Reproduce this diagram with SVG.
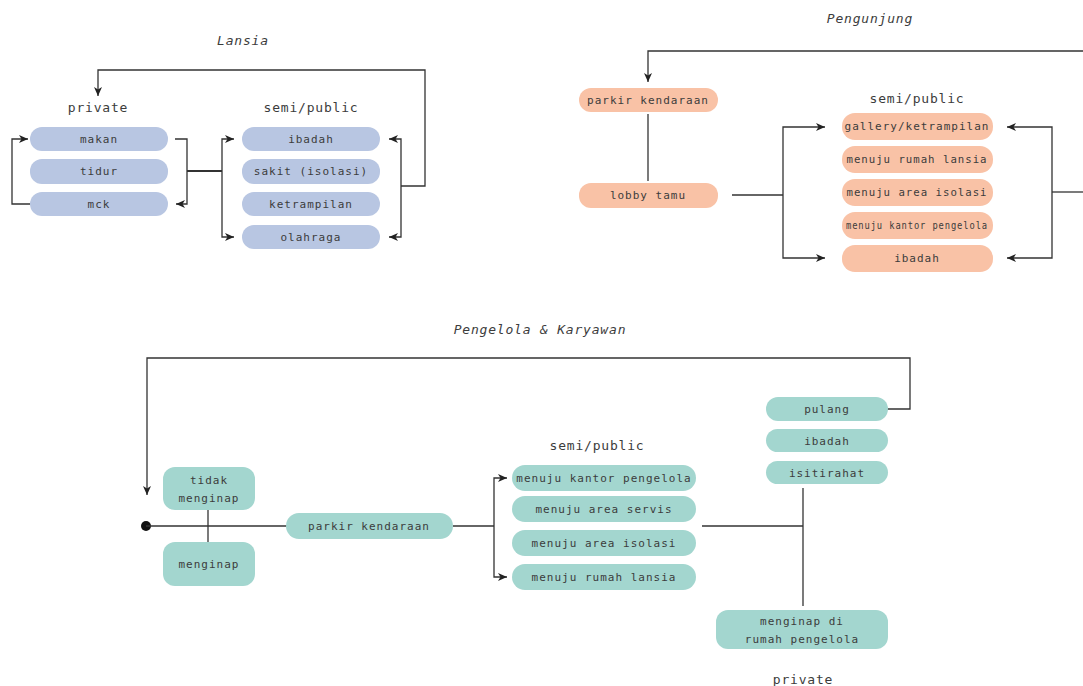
<svg xmlns="http://www.w3.org/2000/svg" width="1083" height="686" viewBox="0 0 1083 686">
<defs>
<marker id="ah" markerUnits="userSpaceOnUse" markerWidth="10" markerHeight="8" refX="9" refY="4" orient="auto">
<path d="M0,0 L9,4 L0,8 L2.5,4 z" fill="#222"/>
</marker>
<style>
.n{font-family:"DejaVu Sans Mono",monospace;font-size:11px;letter-spacing:1px;fill:#3c3c3c;text-anchor:middle;dominant-baseline:central}
.h{font-family:"DejaVu Sans Mono",monospace;font-size:13px;letter-spacing:0.8px;fill:#3c3c3c;text-anchor:middle;dominant-baseline:central}
.t{font-family:"DejaVu Sans Mono",monospace;font-size:13px;font-style:italic;letter-spacing:0.8px;fill:#3c3c3c;text-anchor:middle;dominant-baseline:central}
.b{fill:#b8c6e2}
.o{fill:#f9c2a6}
.g{fill:#a3d6cf}
.c{fill:none;stroke:#333;stroke-width:1.3}
.a{marker-end:url(#ah)}
</style>
</defs>
<rect width="1083" height="686" fill="#fff"/>

<!-- titles and labels -->
<text class="t" x="243" y="40">Lansia</text>
<text class="h" x="98" y="107">private</text>
<text class="h" x="311" y="107">semi/public</text>
<text class="t" x="870" y="18">Pengunjung</text>
<text class="h" x="917" y="98">semi/public</text>
<text class="t" x="540" y="329">Pengelola &amp; Karyawan</text>
<text class="h" x="597" y="445">semi/public</text>
<text class="h" x="803" y="679">private</text>

<g id="connectors">
<!-- Lansia -->
<path class="c a" d="M401,186 H425 V70 H98 V96"/>
<path class="c a" d="M30,204 H12 V139 H28"/>
<path class="c a" d="M175,139 H187 V204 H176"/>
<path class="c" d="M187,171 H222" style="stroke-width:2"/>
<path class="c a" d="M222,171 V139 H234"/>
<path class="c a" d="M222,171 V237 H234"/>
<path class="c a" d="M401,186 V139 H389"/>
<path class="c a" d="M401,186 V237 H389"/>
<!-- Pengunjung -->
<path class="c a" d="M1083,51 H648 V82"/>
<path class="c" d="M648,114 V181"/>
<path class="c" d="M732,195 H783"/>
<path class="c a" d="M783,195 V127 H825"/>
<path class="c a" d="M783,195 V258 H825"/>
<path class="c" d="M1083,192 H1052"/>
<path class="c a" d="M1052,192 V127 H1007"/>
<path class="c a" d="M1052,192 V258 H1007"/>
<!-- Pengelola -->
<path class="c a" d="M880,409 H910 V358 H147 V495"/>
<circle cx="146" cy="526" r="5" fill="#111"/>
<path class="c" d="M146,526 H287"/>
<path class="c" d="M208,510 V542"/>
<path class="c" d="M453,526 H494"/>
<path class="c a" d="M494,526 V478 H507"/>
<path class="c a" d="M494,526 V577 H507"/>
<path class="c" d="M702,526 H803"/>
<path class="c" d="M803,488 V606"/>
</g>

<!-- Lansia nodes -->
<g id="l-makan"><rect class="b" x="30" y="127" width="138" height="24" rx="12"/><text class="n" x="99" y="139">makan</text></g>
<g id="l-tidur"><rect class="b" x="30" y="159" width="138" height="25" rx="12"/><text class="n" x="99" y="171">tidur</text></g>
<g id="l-mck"><rect class="b" x="30" y="192" width="138" height="24" rx="12"/><text class="n" x="99" y="204">mck</text></g>
<g id="l-ibadah"><rect class="b" x="242" y="127" width="138" height="24" rx="12"/><text class="n" x="311" y="139">ibadah</text></g>
<g id="l-sakit"><rect class="b" x="242" y="159" width="138" height="25" rx="12"/><text class="n" x="311" y="171">sakit (isolasi)</text></g>
<g id="l-ketrampilan"><rect class="b" x="242" y="192" width="138" height="24" rx="12"/><text class="n" x="311" y="204">ketrampilan</text></g>
<g id="l-olahraga"><rect class="b" x="242" y="225" width="138" height="24" rx="12"/><text class="n" x="311" y="237">olahraga</text></g>

<!-- Pengunjung nodes -->
<g id="p-parkir"><rect class="o" x="579" y="88" width="139" height="24" rx="12"/><text class="n" x="648" y="100">parkir kendaraan</text></g>
<g id="p-lobby"><rect class="o" x="579" y="183" width="139" height="25" rx="12"/><text class="n" x="648" y="195">lobby tamu</text></g>
<g id="p-gallery"><rect class="o" x="842" y="113" width="151" height="27" rx="13"/><text class="n" x="917" y="126.5">gallery/ketrampilan</text></g>
<g id="p-rumah"><rect class="o" x="842" y="146" width="151" height="27" rx="13"/><text class="n" x="917" y="159.5" textLength="141" lengthAdjust="spacingAndGlyphs">menuju rumah lansia</text></g>
<g id="p-isolasi"><rect class="o" x="842" y="179" width="151" height="27" rx="13"/><text class="n" x="917" y="192.5" textLength="141" lengthAdjust="spacingAndGlyphs">menuju area isolasi</text></g>
<g id="p-kantor"><rect class="o" x="842" y="212" width="151" height="27" rx="13"/><text class="n" x="917" y="225.5" textLength="142" lengthAdjust="spacingAndGlyphs" style="font-size:10px">menuju kantor pengelola</text></g>
<g id="p-ibadah"><rect class="o" x="842" y="245" width="151" height="27" rx="13"/><text class="n" x="917" y="258.5">ibadah</text></g>

<!-- Pengelola nodes -->
<g id="k-tidak"><rect class="g" x="163" y="467" width="92" height="43" rx="12"/><text class="n" x="209" y="480">tidak</text><text class="n" x="209" y="498">menginap</text></g>
<g id="k-menginap"><rect class="g" x="163" y="542" width="92" height="44" rx="12"/><text class="n" x="209" y="564">menginap</text></g>
<g id="k-parkir"><rect class="g" x="286" y="513" width="167" height="26" rx="13"/><text class="n" x="369" y="526">parkir kendaraan</text></g>
<g id="k-kantor"><rect class="g" x="512" y="465" width="184" height="26" rx="13"/><text class="n" x="604" y="478">menuju kantor pengelola</text></g>
<g id="k-servis"><rect class="g" x="512" y="496" width="184" height="26" rx="13"/><text class="n" x="604" y="509">menuju area servis</text></g>
<g id="k-isolasi"><rect class="g" x="512" y="530" width="184" height="26" rx="13"/><text class="n" x="604" y="543">menuju area isolasi</text></g>
<g id="k-rumah"><rect class="g" x="512" y="564" width="184" height="26" rx="13"/><text class="n" x="604" y="577">menuju rumah lansia</text></g>
<g id="k-pulang"><rect class="g" x="766" y="397" width="122" height="24" rx="12"/><text class="n" x="827" y="409">pulang</text></g>
<g id="k-ibadah"><rect class="g" x="766" y="429" width="122" height="23" rx="11.5"/><text class="n" x="827" y="441">ibadah</text></g>
<g id="k-istirahat"><rect class="g" x="766" y="461" width="122" height="23" rx="11.5"/><text class="n" x="827" y="473">isitirahat</text></g>
<g id="k-rumahpengelola"><rect class="g" x="716" y="610" width="172" height="39" rx="12"/><text class="n" x="802" y="621">menginap di</text><text class="n" x="802" y="639">rumah pengelola</text></g>
</svg>
